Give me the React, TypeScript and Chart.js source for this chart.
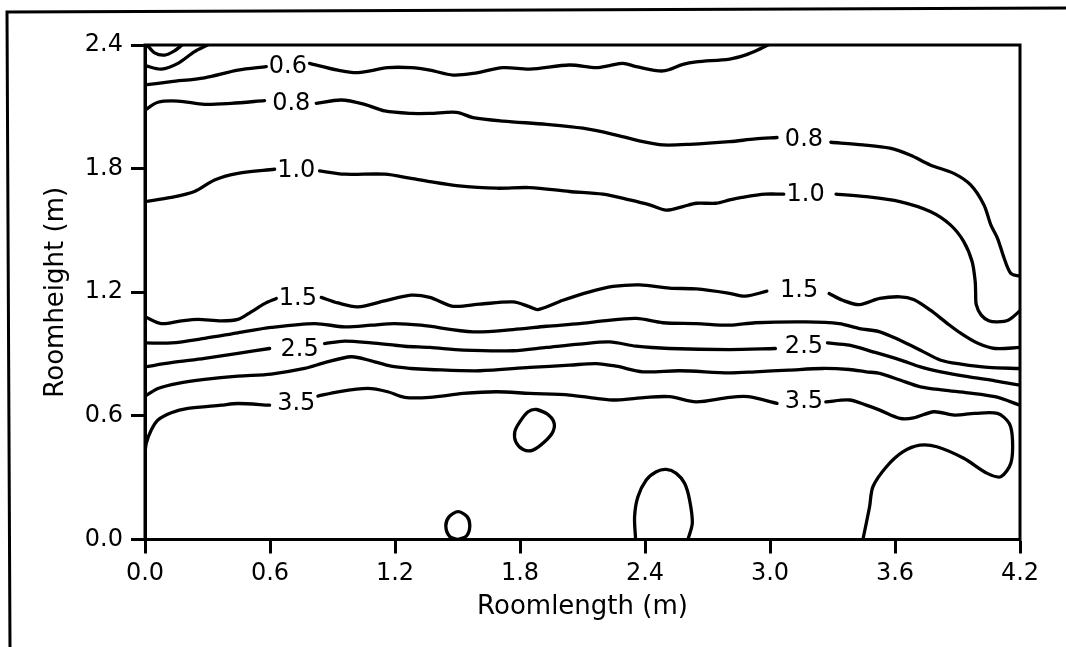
import React, { useEffect, useRef } from 'react';
import { Chart, registerables } from 'chart.js';

Chart.register(...registerables);

// Axis ticks
const xTicks = [0, 0.6, 1.2, 1.8, 2.4, 3.0, 3.6, 4.2];
const yTicks = [0, 0.6, 1.2, 1.8, 2.4];

// Contour segments [roomlength (m), roomheight (m)]
const c02: number[][] = [[0.01, 2.40], [0.046, 2.362], [0.094, 2.351], [0.142, 2.372], [0.178, 2.40]];
const c04: number[][] = [[0, 2.30], [0.078, 2.283], [0.158, 2.311], [0.238, 2.368], [0.30, 2.40]];

const c06L: number[][] = [[0, 2.206], [0.126, 2.222], [0.286, 2.241], [0.446, 2.278], [0.582, 2.295]];
const c06R: number[][] = [[0.79, 2.311], [0.926, 2.278], [1.022, 2.266], [1.165, 2.290], [1.277, 2.290], [1.367, 2.278], [1.479, 2.254], [1.575, 2.262], [1.719, 2.290], [1.847, 2.283], [2.038, 2.303], [2.166, 2.290], [2.230, 2.300], [2.294, 2.311], [2.358, 2.295], [2.486, 2.274], [2.582, 2.306], [2.646, 2.318], [2.806, 2.332], [2.884, 2.352], [2.95, 2.38], [2.99, 2.40]];

const c08L: number[][] = [[0, 2.084], [0.062, 2.122], [0.158, 2.128], [0.286, 2.112], [0.414, 2.117], [0.574, 2.130]];
const c08M: number[][] = [[0.822, 2.117], [0.942, 2.133], [1.054, 2.112], [1.150, 2.080], [1.277, 2.068], [1.367, 2.068], [1.495, 2.073], [1.575, 2.048], [1.719, 2.031], [1.927, 2.015], [2.102, 1.996], [2.262, 1.963], [2.390, 1.931], [2.486, 1.915], [2.614, 1.918], [2.806, 1.931], [2.929, 1.944], [3.034, 1.951]];
const c08R: number[][] = [[3.292, 1.928], [3.446, 1.915], [3.575, 1.899], [3.672, 1.866], [3.769, 1.818], [3.882, 1.777], [3.963, 1.721], [4.027, 1.624], [4.060, 1.527], [4.092, 1.462], [4.124, 1.365], [4.156, 1.292], [4.2, 1.278]];

const c10L: number[][] = [[0, 1.640], [0.126, 1.660], [0.238, 1.689], [0.334, 1.745], [0.446, 1.777], [0.622, 1.797]];
const c10M: number[][] = [[0.838, 1.789], [0.958, 1.773], [1.150, 1.773], [1.277, 1.753], [1.367, 1.737], [1.495, 1.718], [1.687, 1.705], [1.847, 1.708], [2.038, 1.689], [2.198, 1.676], [2.326, 1.648], [2.422, 1.624], [2.502, 1.599], [2.582, 1.616], [2.646, 1.632], [2.742, 1.632], [2.806, 1.648], [2.864, 1.660], [2.977, 1.676], [3.066, 1.676]];
const c10R: number[][] = [[3.317, 1.676], [3.462, 1.664], [3.623, 1.640], [3.769, 1.592], [3.866, 1.527], [3.930, 1.446], [3.970, 1.349], [3.985, 1.252], [3.987, 1.200], [3.990, 1.140], [4.014, 1.089], [4.050, 1.062], [4.092, 1.056], [4.145, 1.065], [4.2, 1.11]];

const c15L: number[][] = [[0, 1.081], [0.078, 1.048], [0.174, 1.061], [0.254, 1.068], [0.366, 1.061], [0.446, 1.068], [0.510, 1.105], [0.574, 1.145], [0.630, 1.170]];
const c15M: number[][] = [[0.846, 1.175], [0.926, 1.148], [1.022, 1.129], [1.150, 1.158], [1.277, 1.186], [1.367, 1.175], [1.479, 1.132], [1.607, 1.142], [1.767, 1.153], [1.847, 1.129], [1.886, 1.116], [2.006, 1.161], [2.134, 1.202], [2.246, 1.228], [2.374, 1.236], [2.518, 1.220], [2.646, 1.216], [2.806, 1.195], [2.881, 1.181], [2.985, 1.205]];
const c15R: number[][] = [[3.284, 1.194], [3.349, 1.161], [3.429, 1.140], [3.527, 1.170], [3.624, 1.178], [3.689, 1.165], [3.770, 1.113], [3.852, 1.048], [3.917, 1.000], [3.998, 0.952], [4.080, 0.927], [4.2, 0.932]];

const c20: number[][] = [[0, 0.954], [0.126, 0.954], [0.286, 0.976], [0.446, 1.003], [0.606, 1.029], [0.814, 1.048], [0.958, 1.032], [1.086, 1.040], [1.198, 1.048], [1.325, 1.040], [1.575, 1.008], [1.767, 1.019], [1.927, 1.035], [2.086, 1.048], [2.198, 1.061], [2.358, 1.073], [2.486, 1.052], [2.646, 1.048], [2.806, 1.040], [2.929, 1.052], [3.171, 1.056], [3.332, 1.048], [3.429, 1.024], [3.527, 1.008], [3.624, 0.967], [3.722, 0.919], [3.820, 0.870], [3.917, 0.851], [4.047, 0.835], [4.2, 0.830]];

const c25L: number[][] = [[0, 0.838], [0.126, 0.858], [0.286, 0.879], [0.446, 0.903], [0.598, 0.927]];
const c25M: number[][] = [[0.862, 0.951], [0.958, 0.963], [1.086, 0.954], [1.246, 0.938], [1.367, 0.932], [1.527, 0.919], [1.767, 0.916], [1.927, 0.932], [2.086, 0.948], [2.230, 0.959], [2.358, 0.938], [2.518, 0.927], [2.806, 0.922], [3.026, 0.927]];
const c25R: number[][] = [[3.276, 0.954], [3.381, 0.943], [3.494, 0.911], [3.624, 0.872], [3.722, 0.838], [3.820, 0.814], [3.950, 0.790], [4.080, 0.770], [4.2, 0.749]];

const c30: number[][] = [[0, 0.696], [0.062, 0.733], [0.158, 0.758], [0.286, 0.777], [0.446, 0.793], [0.606, 0.803], [0.766, 0.830], [0.862, 0.858], [0.990, 0.887], [1.086, 0.867], [1.181, 0.841], [1.277, 0.830], [1.367, 0.825], [1.607, 0.819], [1.847, 0.835], [2.038, 0.846], [2.166, 0.854], [2.262, 0.841], [2.390, 0.814], [2.566, 0.819], [2.806, 0.809], [2.929, 0.814], [3.090, 0.822], [3.252, 0.830], [3.381, 0.825], [3.462, 0.814], [3.527, 0.806], [3.624, 0.774], [3.722, 0.741], [3.835, 0.725], [3.950, 0.712], [4.080, 0.693], [4.2, 0.652]];

const c35L: number[][] = [[0, 0.418], [0.006, 0.467], [0.030, 0.531], [0.062, 0.580], [0.126, 0.615], [0.206, 0.636], [0.366, 0.652], [0.446, 0.660], [0.598, 0.652]];
const c35M: number[][] = [[0.830, 0.696], [0.926, 0.717], [1.070, 0.733], [1.165, 0.717], [1.246, 0.690], [1.367, 0.690], [1.527, 0.709], [1.687, 0.717], [1.847, 0.709], [2.038, 0.701], [2.166, 0.685], [2.262, 0.677], [2.406, 0.690], [2.518, 0.693], [2.646, 0.668], [2.806, 0.690], [2.896, 0.693], [3.034, 0.661]];
const c35R: number[][] = [[3.268, 0.668], [3.381, 0.677], [3.462, 0.652], [3.527, 0.628], [3.624, 0.588], [3.689, 0.590], [3.787, 0.620], [3.885, 0.604], [3.982, 0.612], [4.092, 0.612], [4.148, 0.564], [4.164, 0.483], [4.156, 0.370], [4.108, 0.305], [4.043, 0.321], [3.930, 0.394], [3.801, 0.450], [3.720, 0.458], [3.639, 0.426], [3.559, 0.353], [3.494, 0.256], [3.478, 0.159], [3.446, 0]];

// Closed / floor-touching 4.0 islands
const b1: number[][] = [[1.503, 0.0], [1.543, 0.017], [1.559, 0.065], [1.546, 0.111], [1.503, 0.135], [1.460, 0.111], [1.444, 0.065], [1.463, 0.014], [1.503, 0.0]];
const b2: number[][] = [[1.879, 0.631], [1.927, 0.612], [1.962, 0.571], [1.958, 0.523], [1.918, 0.474], [1.862, 0.434], [1.815, 0.437], [1.780, 0.474], [1.775, 0.523], [1.799, 0.571], [1.839, 0.620], [1.879, 0.631], [1.927, 0.612]];
const b3: number[][] = [[2.355, 0], [2.350, 0.111], [2.366, 0.208], [2.406, 0.289], [2.454, 0.329], [2.502, 0.340], [2.550, 0.321], [2.590, 0.273], [2.614, 0.192], [2.627, 0.079], [2.606, 0]];

// Contour labels
const labelText = ['0.6', '0.8', '1.0', '1.5', '2.5', '3.5', '0.8', '1.0', '1.5', '2.5', '3.5'];
const labelX = [0.686, 0.702, 0.726, 0.734, 0.742, 0.726, 3.163, 3.171, 3.14, 3.163, 3.163];
const labelY = [2.295, 2.117, 1.789, 1.170, 0.922, 0.660, 1.939, 1.672, 1.205, 0.935, 0.668];

const segments = [c02, c04, c06L, c06R, c08L, c08M, c08R, c10L, c10M, c10R, c15L, c15M, c15R, c20, c25L, c25M, c25R, c30, c35L, c35M, c35R, b1, b2, b3];

const FONT = 'DejaVu Sans';

export default function App() {
  const ref = useRef<HTMLCanvasElement>(null);

  useEffect(() => {
    if (!ref.current) return;

    const framePlugin = {
      id: 'frame',
      beforeDraw(chart: any) {
        const ctx = chart.ctx;
        ctx.save();
        ctx.strokeStyle = '#000';
        ctx.lineWidth = 3;
        ctx.beginPath();
        ctx.moveTo(10, 647);
        ctx.lineTo(7, 12);
        ctx.lineTo(1066, 8);
        ctx.stroke();
        ctx.restore();
      },
      afterDatasetsDraw(chart: any) {
        const { ctx, chartArea: a } = chart;
        ctx.save();
        ctx.strokeStyle = '#000';
        ctx.lineWidth = 3;
        ctx.strokeRect(a.left, a.top, a.right - a.left, a.bottom - a.top);
        ctx.restore();
      },
    };

    const labelPlugin = {
      id: 'contourLabels',
      afterDatasetsDraw(chart: any) {
        const { ctx, scales } = chart;
        ctx.save();
        ctx.fillStyle = '#000';
        ctx.font = `24px "${FONT}"`;
        ctx.textAlign = 'center';
        ctx.textBaseline = 'middle';
        labelText.forEach((t, i) => {
          ctx.fillText(t, scales.x.getPixelForValue(labelX[i]), scales.y.getPixelForValue(labelY[i]));
        });
        ctx.restore();
      },
    };

    const gridOpts = {
      display: true,
      drawOnChartArea: false,
      drawTicks: true,
      tickLength: 14,
      tickWidth: 3,
      tickColor: '#000',
      color: '#000',
    };

    const chart = new Chart(ref.current, {
      type: 'scatter',
      data: {
        datasets: segments.map((s) => ({
          data: s.map(([x, y]) => ({ x, y })),
          showLine: true,
          borderColor: '#000',
          borderWidth: 3.3,
          pointRadius: 0,
          pointHoverRadius: 0,
          tension: 0.3,
          fill: false,
          borderCapStyle: 'round',
          borderJoinStyle: 'round',
        })),
      },
      options: {
        animation: false,
        responsive: true,
        maintainAspectRatio: false,
        events: [],
        layout: { padding: { top: 45, right: 46, bottom: 0, left: 0 } },
        plugins: { legend: { display: false }, tooltip: { enabled: false } },
        scales: {
          x: {
            type: 'linear',
            min: 0,
            max: 4.2,
            afterBuildTicks: (s: any) => {
              s.ticks = xTicks.map((v) => ({ value: v }));
            },
            afterFit: (s: any) => {
              s.height = 107.5;
            },
            ticks: {
              font: { family: FONT, size: 24 },
              color: '#000',
              padding: 6,
              maxRotation: 0,
              autoSkip: false,
              callback: (v: any) => Number(v).toFixed(1),
            },
            grid: gridOpts,
            border: { display: true, color: '#000', width: 3 },
            title: {
              display: true,
              text: 'Roomlength (m)',
              color: '#000',
              font: { family: FONT, size: 26 },
              padding: { top: 0, bottom: 24 },
            },
          },
          y: {
            type: 'linear',
            min: 0,
            max: 2.4,
            afterBuildTicks: (s: any) => {
              s.ticks = yTicks.map((v) => ({ value: v }));
            },
            afterFit: (s: any) => {
              s.width = 145;
            },
            ticks: {
              font: { family: FONT, size: 24 },
              color: '#000',
              padding: 8,
              autoSkip: false,
              callback: (v: any) => Number(v).toFixed(1),
            },
            grid: gridOpts,
            border: { display: true, color: '#000', width: 3 },
            title: {
              display: true,
              text: 'Roomheight (m)',
              color: '#000',
              font: { family: FONT, size: 26 },
              padding: { top: 41, bottom: 0 },
            },
          },
        },
      } as any,
      plugins: [framePlugin, labelPlugin],
    } as any);

    return () => chart.destroy();
  }, []);

  return (
    <div style={{ position: 'absolute', left: 0, top: 0, width: 1066, height: 647, background: '#fff' }}>
      <canvas ref={ref} />
    </div>
  );
}
